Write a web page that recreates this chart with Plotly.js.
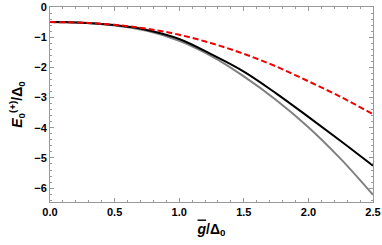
<!DOCTYPE html>
<html><head><meta charset="utf-8">
<script src="https://cdn.plot.ly/plotly-3.0.1.min.js"></script>
<style>body{margin:0;padding:0;background:#fff}#chart{width:382px;height:245px}</style>
</head><body><div id="chart"></div>
<script>
const gVals = [0, 0.25, 0.5, 0.75, 1.0, 1.25, 1.5, 1.75, 2.0, 2.25, 2.5];
const redDashed = [-0.5, -0.52, -0.59, -0.72, -0.92, -1.2, -1.55, -1.97, -2.46, -2.98, -3.55];
const blackLine = [-0.5, -0.52, -0.60, -0.76, -1.06, -1.57, -2.14, -2.86, -3.64, -4.44, -5.26];
const grayLine  = [-0.5, -0.52, -0.61, -0.79, -1.12, -1.63, -2.30, -3.08, -3.98, -5.03, -6.22];

const traces = [
  {x: gVals, y: grayLine, mode: 'lines', line: {color: '#808080', width: 2, shape: 'spline'}},
  {x: gVals, y: blackLine, mode: 'lines', line: {color: '#000000', width: 2, shape: 'spline'}},
  {x: gVals, y: redDashed, mode: 'lines', line: {color: '#ee0000', width: 2, dash: '6px,3px', shape: 'spline'}}
];
const axisCommon = {
  showgrid: false, zeroline: false, showline: true, linecolor: '#999', linewidth: 1,
  mirror: 'allticks', ticks: 'inside', ticklen: 4, tickcolor: '#999', tickwidth: 1,
  tickfont: {family: 'Liberation Sans, Arial, sans-serif', size: 11, color: '#000', weight: 'bold'}
};
const layout = {
  width: 382, height: 245,
  margin: {l: 50, r: 9, t: 7, b: 43},
  showlegend: false, plot_bgcolor: '#fff', paper_bgcolor: '#fff',
  xaxis: Object.assign({}, axisCommon, {
    range: [0, 2.5], dtick: 0.5, tick0: 0, tickformat: '.1f',
    minor: {dtick: 0.1, ticklen: 2, ticks: 'inside', tickcolor: '#999'},
    title: {text: '<b><i><span style="text-decoration:overline">g</span></i>/Δ<sub>0</sub></b>', standoff: 6,
      font: {family: 'Liberation Sans, Arial, sans-serif', size: 14, color: '#000'}}
  }),
  yaxis: Object.assign({}, axisCommon, {
    range: [-6.46, 0], dtick: 1, tick0: 0,
    minor: {dtick: 0.2, ticklen: 2, ticks: 'inside', tickcolor: '#999'},
    title: {text: '<b><i>E</i><sub>0</sub><sup>(+)</sup>/Δ<sub>0</sub></b>', standoff: 8,
      font: {family: 'Liberation Sans, Arial, sans-serif', size: 14, color: '#000'}}
  })
};
Plotly.newPlot('chart', traces, layout, {displayModeBar: false, staticPlot: true});
</script></body></html>
